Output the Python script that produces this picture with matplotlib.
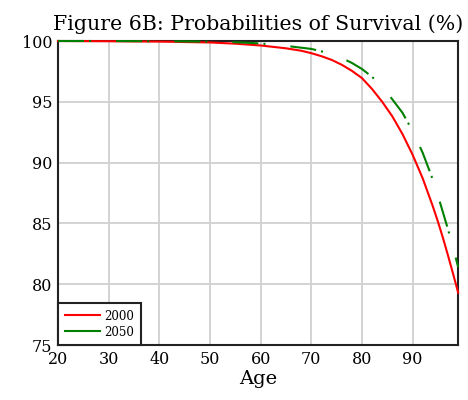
import matplotlib
matplotlib.use("Agg")
import matplotlib.pyplot as plt

# survival probabilities (%)
ages = [20, 30, 40, 50, 55, 60, 65, 68, 70, 72, 74, 76, 78, 80, 82, 84, 86, 88,
        90, 92, 94, 95, 96, 97, 98, 99]
surv_2000 = [100.0, 99.98, 99.95, 99.88, 99.78, 99.63, 99.4, 99.2, 99.0, 98.75, 98.45,
             98.05, 97.55, 96.95, 96.05, 95.0, 93.8, 92.35, 90.65, 88.7, 86.4, 85.15,
             83.8, 82.35, 80.85, 79.3]
surv_2050 = [100.0, 100.0, 99.98, 99.95, 99.9, 99.8, 99.6, 99.45, 99.35, 99.15, 98.9,
             98.6, 98.2, 97.7, 97.05, 96.2, 95.2, 94.1, 92.6, 90.8, 88.6, 87.3,
             85.9, 84.5, 83.0, 81.4]
series_labels = ["2000", "2050"]
x_ticks = [20, 30, 40, 50, 60, 70, 80, 90]
y_ticks = [75, 80, 85, 90, 95, 100]

plt.rcParams['font.family'] = ['DejaVu Serif', 'Liberation Serif']

fig = plt.figure(figsize=(4.68, 4.0), dpi=100)
ax = fig.add_axes([0.124, 0.1375, 0.855, 0.76])

ax.plot(ages, surv_2000, color='red', lw=1.5, label=series_labels[0],
        zorder=3, clip_on=False)
ax.plot(ages, surv_2050, color='green', lw=1.5, dashes=(12.5, 2.4, 1.0, 12.0),
        label=series_labels[1], zorder=4, clip_on=False)

ax.set_xlim(20, 99)
ax.set_ylim(75, 100)
ax.set_xticks(x_ticks)
ax.set_yticks(y_ticks)
ax.grid(True, color='#d0d0d0', lw=1.3)
ax.set_axisbelow(True)
ax.tick_params(length=0, labelsize=11.5, pad=4)
for s in ax.spines.values():
    s.set_linewidth(1.5)
    s.set_color('#222222')

ax.set_title("Figure 6B: Probabilities of Survival (%)", fontsize=14.8, pad=8)
ax.set_xlabel("Age", fontsize=14, labelpad=2)

leg = ax.legend(loc='lower left', fontsize=8.5, frameon=True, fancybox=False,
                borderaxespad=0, handlelength=3.0, borderpad=0.55, labelspacing=0.25,
                handletextpad=0.4)
leg.get_frame().set_edgecolor('#222222')
leg.get_frame().set_linewidth(1.5)
leg.get_frame().set_alpha(1)
# solid handles, as in the reference legend
for h in leg.get_lines():
    h.set_linestyle('-')

fig.savefig("out.png", dpi=100)
